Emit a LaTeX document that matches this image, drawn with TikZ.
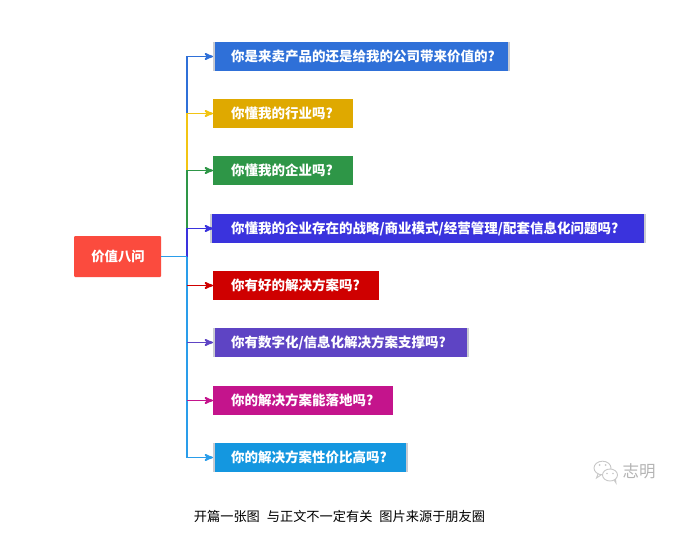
\documentclass[tikz,border=0pt]{standalone}
\usepackage{fontspec}
\setmainfont{Noto Sans CJK SC}
\usetikzlibrary{arrows,positioning}
\definecolor{qblue}{HTML}{2F70D8}
\definecolor{qyellow}{HTML}{DFA900}
\definecolor{qline}{HTML}{F2C413}
\definecolor{qgreen}{HTML}{2E9647}
\definecolor{qindigo}{HTML}{3A33DD}
\definecolor{qred}{HTML}{CF0000}
\definecolor{qpurple}{HTML}{5E44C4}
\definecolor{qpink}{HTML}{C4148C}
\definecolor{qsky}{HTML}{1497E0}
\definecolor{qtrunk}{HTML}{2A9DEA}
\definecolor{qroot}{HTML}{FB4B3E}
\definecolor{qstrip}{HTML}{C9CBD2}
\definecolor{qmark}{HTML}{C8C8C8}
\tikzset{
    %Define standard arrow tip
    >=stealth',
    %Define style for question boxes: text width, colour
    qbox/.style 2 args={
           rectangle,
           fill=qstrip,
           text=white,
           font=\fontsize{13.5pt}{16pt}\selectfont\bfseries,
           text width=#1,
           align=left,
           minimum height=29pt,
           inner xsep=18pt,
           inner ysep=0pt,
           outer sep=0pt,
           path picture={
             \fill[#2] ([xshift=2pt]path picture bounding box.south west)
               rectangle ([xshift=-2pt]path picture bounding box.north east);
           }},
    % Define style for the root box
    rootbox/.style={
           rectangle,
           rounded corners=1pt,
           fill=qroot,
           text=white,
           font=\fontsize{13.3pt}{16pt}\selectfont\bfseries,
           minimum width=87pt,
           minimum height=41pt,
           outer sep=0pt},
    % Define arrow style
    pil/.style={
           ->,
           line width=1.8pt,
           draw=#1}
}

\begin{document}
\begin{tikzpicture}[x=1pt,y=-1pt]
         \useasboundingbox (0,0) rectangle (677,548);
         %nodes
          \node[rootbox] (root) at (117.5,256.5) {\hspace{1pt}价值八问};
          \node[qbox={261pt}{qblue},anchor=north west] (q1) at (213,42)
            {你是来卖产品的还是给我的公司带来价值的?};
          \node[qbox={104pt}{qyellow},fill=qyellow,below=28pt of q1.south west,anchor=north west]
            (q2) {你懂我的行业吗?};
          \node[qbox={104pt}{qgreen},fill=qgreen,below=28pt of q2.south west,anchor=north west]
            (q3) {你懂我的企业吗?};
          \node[qbox={394pt}{qindigo},inner xsep=21pt,below=29pt of q3.south west,anchor=north west,xshift=-3pt]
            (q4) {你懂我的企业存在的战略/商业模式/经营管理/配套信息化问题吗?};
          \node[qbox={130pt}{qred},fill=qred,below=28pt of q4.south west,anchor=north west,xshift=3pt]
            (q5) {你有好的解决方案吗?};
          \node[qbox={220pt}{qpurple},below=28pt of q5.south west,anchor=north west]
            (q6) {你有数字化/信息化解决方案支撑吗?};
          \node[qbox={144pt}{qpink},fill=qpink,below=29pt of q6.south west,anchor=north west]
            (q7) {你的解决方案能落地吗?};
          \node[qbox={159pt}{qsky},below=28pt of q7.south west,anchor=north west]
            (q8) {你的解决方案性价比高吗?};
          \coordinate[right=26pt of root.east] (jn);
         %connectors
          \draw[pil=qblue] (jn |- q2.west) |- (q1.west);
          \draw[pil=qline] (jn |- q3.west) |- (q2.west);
          \draw[pil=qgreen] (jn |- q4.west) |- (q3.west);
          \draw[pil=qindigo,shorten >=-3pt] (jn) |- (q4.west);
          \draw[pil=qtrunk] (jn) |- (q8.west);
          \draw[pil=qred] (jn |- q5.west) -- (q5.west);
          \draw[pil=qpurple] (jn |- q6.west) -- (q6.west);
          \draw[pil=qpink] (jn |- q7.west) -- (q7.west);
          \draw[line width=1.8pt,draw=qtrunk] (root.east) -- (jn);
         %watermark
          \draw[qmark,line width=0.9pt,fill=white] (602.5,468) ellipse (8.5 and 6.8);
          \draw[qmark,line width=0.9pt] (598,474) -- (596.5,478) -- (601,475);
          \draw[qmark,line width=0.9pt,fill=white] (610,475) ellipse (7.5 and 6);
          \draw[qmark,line width=0.9pt] (614,480) -- (616,483) -- (615.5,479);
          \fill[qmark] (599.5,465) circle (1) (605.5,465) circle (1) (607,473.5) circle (0.9) (613,473.5) circle (0.9);
          \node[text=qmark!90!black,font=\fontsize{16.5pt}{18pt}\selectfont,inner sep=0pt] (mark) at (639,471) {志明};
         %caption
          \node[text=black,font=\fontsize{13.2pt}{15pt}\selectfont,inner sep=0pt] (cap) at (339.5,516)
            {开篇一张图\hspace{7pt}与正文不一定有关\hspace{7pt}图片来源于朋友圈};
        \end{tikzpicture}
\end{document}
